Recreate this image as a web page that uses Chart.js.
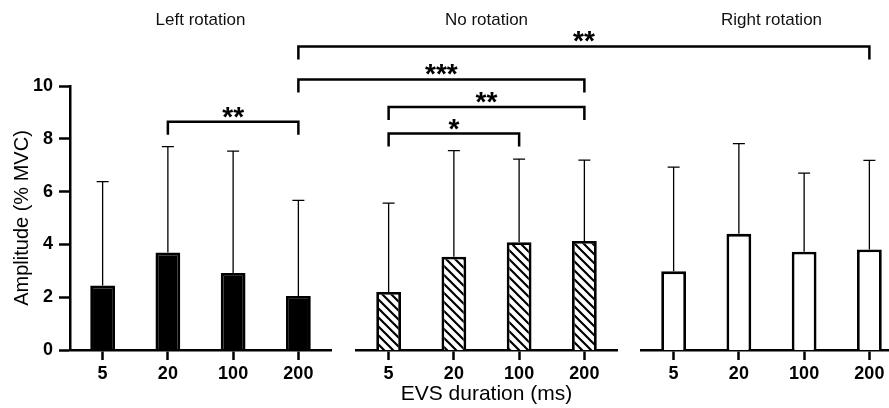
<!DOCTYPE html>
<html>
<head>
<meta charset="utf-8">
<script src="https://cdn.jsdelivr.net/npm/chart.js@4.4.1/dist/chart.umd.min.js"></script>
<style>
  body { margin: 0; background: #fff; }
  #wrap { position: relative; width: 889px; height: 408px; overflow: hidden; }
  #wrap canvas { position: absolute; top: 0; }
</style>
</head>
<body>
<div id="wrap">
  <canvas id="left-chart" width="335" height="408" style="left:0"></canvas>
  <canvas id="no-chart" width="285" height="408" style="left:340px"></canvas>
  <canvas id="right-chart" width="285" height="408" style="left:625px"></canvas>
  <canvas id="overlay" width="889" height="408" style="left:0;pointer-events:none"></canvas>
</div>
<script>
const FONT = "'Liberation Sans', Arial, sans-serif";

// DATA
const durations = ['5', '20', '100', '200'];
const panelTitles = ['Left rotation', 'No rotation', 'Right rotation'];

// mean and top of the SD whisker, % MVC
const leftMean = [2.44, 3.69, 2.92, 2.05];
const leftTop = [6.38, 7.7, 7.53, 5.67];
const noMean = [2.2, 3.53, 4.08, 4.13];
const noTop = [5.56, 7.55, 7.23, 7.19];
const rightMean = [2.98, 4.4, 3.72, 3.81];
const rightTop = [6.93, 7.82, 6.7, 7.18];

const yTicks = [0, 2, 4, 6, 8, 10];

// significance brackets: [panel, category] -> [panel, category], level in % MVC
const bracketFrom = [[0, 1], [1, 0], [1, 0], [0, 3], [0, 3]];
const bracketTo = [[0, 3], [1, 2], [1, 3], [1, 3], [2, 3]];
const bracketLevel = [8.65, 8.2, 9.2, 10.25, 11.5];
const bracketLabels = ['**', '*', '**', '***', '**'];


/* HATCH FILL */

function makeHatch(canvas) {
    const tile = document.createElement('canvas');
    tile.width = 9;
    tile.height = 9;
    const t = tile.getContext('2d');
    t.fillStyle = '#fff';
    t.fillRect(0, 0, 9, 9);
    t.strokeStyle = '#000';
    t.lineWidth = 2.2;
    t.beginPath();
    t.moveTo(-1, -1); t.lineTo(10, 10);
    t.moveTo(-1, 8); t.lineTo(1, 10);
    t.moveTo(8, -1); t.lineTo(10, 1);
    t.stroke();
    return canvas.getContext('2d').createPattern(tile, 'repeat');
}


/* ERROR BARS (upper SD only) */

const errorBars = {
    id: 'errorBars',
    afterDatasetsDraw(chart, args, opts) {
        const ctx = chart.ctx;
        const yScale = chart.scales.y;
        const meta = chart.getDatasetMeta(0);
        ctx.save();
        ctx.strokeStyle = '#000';
        ctx.lineWidth = 1.3;
        meta.data.forEach((bar, i) => {
            const yTop = yScale.getPixelForValue(opts.tops[i]);
            ctx.beginPath();
            ctx.moveTo(bar.x, bar.y);
            ctx.lineTo(bar.x, yTop);
            ctx.moveTo(bar.x - 6, yTop);
            ctx.lineTo(bar.x + 6, yTop);
            ctx.stroke();
        });
        ctx.restore();
    }
};


/* CHARTS */

function makeChart(id, title, means, tops, fill, showY, showXTitle, pad) {
    const canvas = document.getElementById(id);
    return new Chart(canvas, {
        type: 'bar',
        data: {
            labels: durations,
            datasets: [{
                data: means,
                backgroundColor: fill === 'hatch' ? makeHatch(canvas) : fill,
                borderColor: '#000',
                borderWidth: 2.8,
                borderSkipped: 'start',
                barPercentage: 0.38,
                categoryPercentage: 1
            }]
        },
        options: {
            responsive: false,
            animation: false,
            layout: { padding: { left: pad[0], right: pad[1], top: 0, bottom: 0 } },
            scales: {
                x: {
                    offset: true,
                    ticks: {
                        color: '#000',
                        font: { family: FONT, size: 18, weight: 'bold' },
                        padding: 3,
                        maxRotation: 0
                    },
                    grid: {
                        offset: false,
                        drawOnChartArea: false,
                        tickLength: 10,
                        tickWidth: 2.5,
                        tickColor: '#000'
                    },
                    border: { color: '#000', width: 2.5 },
                    title: {
                        display: showXTitle,
                        text: 'EVS duration (ms)',
                        color: '#000',
                        font: { family: FONT, size: 21 },
                        padding: { top: 0, bottom: 1 }
                    },
                    afterFit(scale) { scale.height = 58; }
                },
                y: {
                    display: showY,
                    min: 0,
                    max: 10,
                    afterBuildTicks(scale) { scale.ticks = yTicks.map(v => ({ value: v })); },
                    ticks: {
                        color: '#000',
                        font: { family: FONT, size: 18, weight: 'bold' },
                        padding: 6
                    },
                    grid: {
                        drawOnChartArea: false,
                        tickLength: 11,
                        tickWidth: 2.5,
                        tickColor: '#000'
                    },
                    border: { color: '#000', width: 2.5 },
                    title: {
                        display: true,
                        text: 'Amplitude (% MVC)',
                        color: '#000',
                        font: { family: FONT, size: 20 },
                        padding: { top: 10, bottom: 0 }
                    },
                    afterFit(scale) { scale.width = showY ? 70 : 0; }
                }
            },
            plugins: {
                legend: { display: false },
                tooltip: { enabled: false },
                title: {
                    display: true,
                    text: title,
                    fullSize: false,
                    color: '#111',
                    font: { family: FONT, size: 17, weight: 'normal' },
                    padding: { top: 10, bottom: 55.6 }
                },
                errorBars: { tops: tops }
            }
        },
        plugins: [errorBars]
    });
}

const charts = [
    makeChart('left-chart', panelTitles[0], leftMean, leftTop, '#000', true, false, [0, 4]),
    makeChart('no-chart', panelTitles[1], noMean, noTop, 'hatch', false, true, [16, 8]),
    makeChart('right-chart', panelTitles[2], rightMean, rightTop, '#fff', false, false, [16, 8])
];


/* SIGNIFICANCE BRACKETS */

function drawBrackets() {
    const ctx = document.getElementById('overlay').getContext('2d');
    const yScale = charts[0].scales.y;
    const xAt = ([panel, cat]) =>
        charts[panel].canvas.offsetLeft + charts[panel].scales.x.getPixelForValue(cat);

    ctx.strokeStyle = '#000';
    ctx.fillStyle = '#000';
    ctx.lineWidth = 2.5;
    ctx.font = 'bold 28px ' + FONT;
    ctx.textAlign = 'center';
    ctx.textBaseline = 'alphabetic';

    bracketLabels.forEach((label, i) => {
        const x1 = xAt(bracketFrom[i]);
        const x2 = xAt(bracketTo[i]);
        const y = yScale.getPixelForValue(bracketLevel[i]);
        ctx.beginPath();
        ctx.moveTo(x1, y + 13);
        ctx.lineTo(x1, y);
        ctx.lineTo(x2, y);
        ctx.lineTo(x2, y + 13);
        ctx.stroke();
        ctx.fillText(label, (x1 + x2) / 2, y + 4);
    });
}

drawBrackets();
</script>
</body>
</html>
